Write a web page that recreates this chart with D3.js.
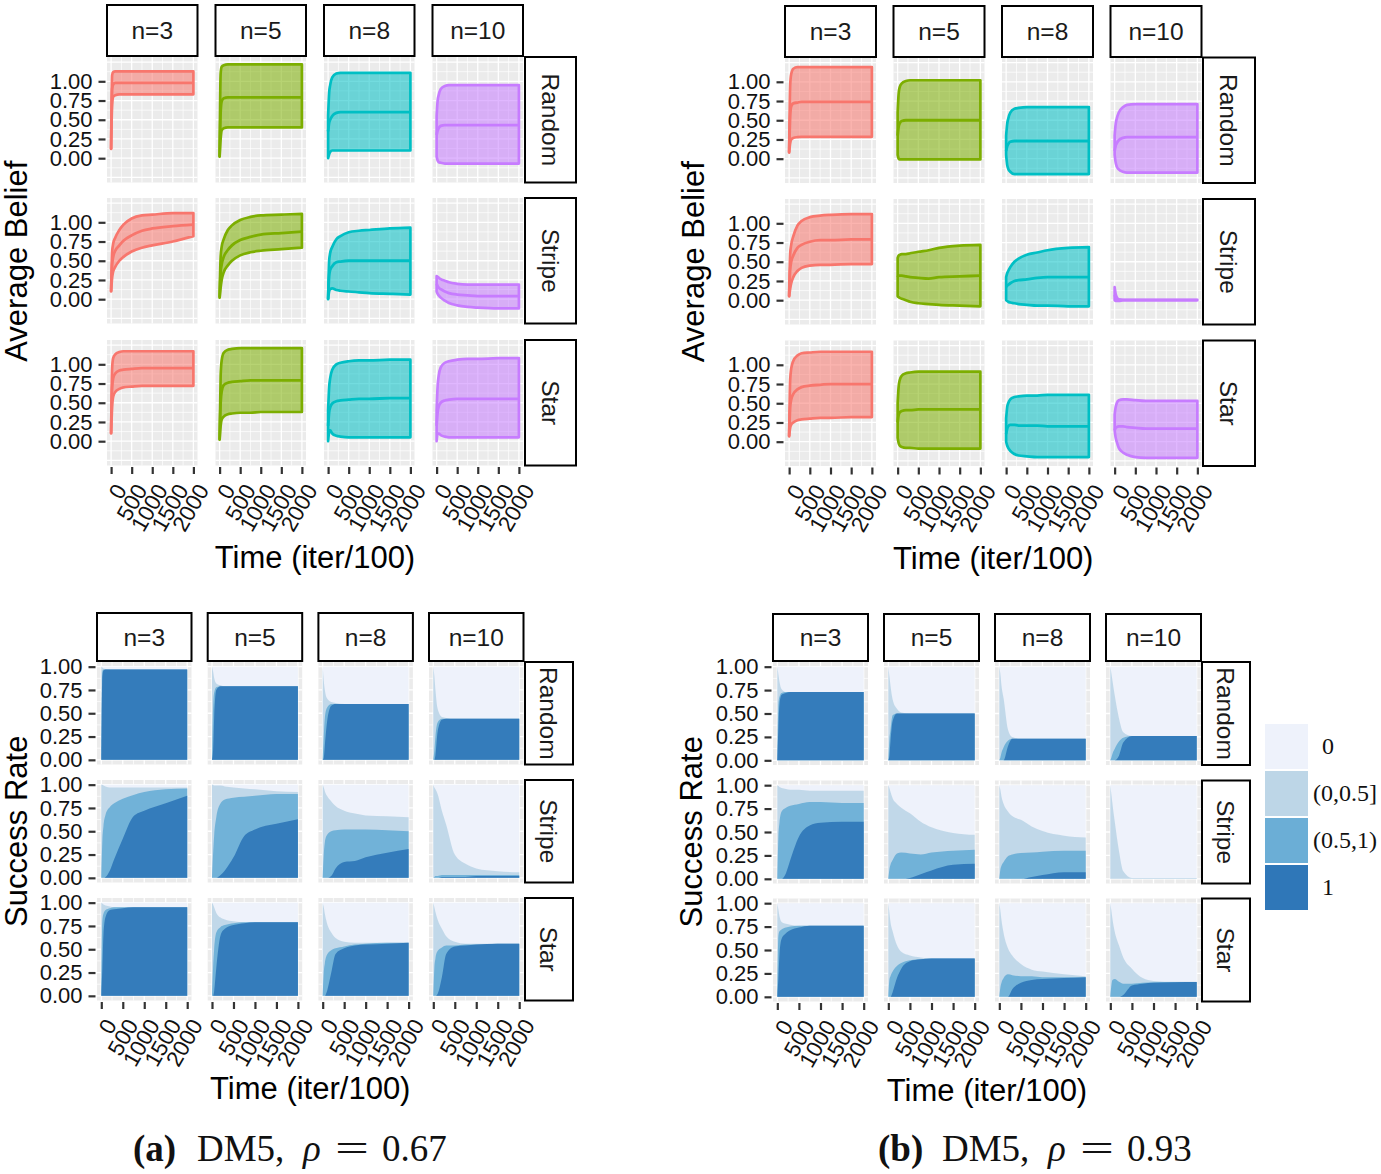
<!DOCTYPE html>
<html>
<head>
<meta charset="utf-8">
<script src="https://cdn.jsdelivr.net/npm/d3@7"></script>
<style>
  body { margin: 0; background: #fff; }
</style>
</head>
<body>
<svg id="fig" width="1381" height="1174"></svg>
<script>
// ---- data ----
const timeSteps = [0, 25, 50, 100, 200, 300, 500, 750, 1000, 1500, 2000];
const sizes = ["n=3", "n=5", "n=8", "n=10"];
const topologies = ["Random", "Stripe", "Star"];
const timeTicks = [0, 500, 1000, 1500, 2000];
const rateTicks = [0, 0.25, 0.5, 0.75, 1];
const successClasses = ["0", "(0,0.5]", "(0.5,1)", "1"];
const captionTags = ["(a)", "(b)"];
const captionRho = ["0.67", "0.93"];

// average belief, [topology][size][time]
const beliefMeanA = [
  [[0.12, 0.90, 0.96, 0.98, 0.98, 0.98, 0.98, 0.98, 0.98, 0.98, 0.98],
   [0.02, 0.60, 0.74, 0.78, 0.79, 0.79, 0.79, 0.79, 0.79, 0.79, 0.79],
   [0.35, 0.46, 0.50, 0.55, 0.59, 0.60, 0.60, 0.60, 0.60, 0.60, 0.60],
   [0.30, 0.36, 0.39, 0.42, 0.43, 0.43, 0.43, 0.43, 0.43, 0.43, 0.43]],
  [[0.10, 0.45, 0.55, 0.63, 0.70, 0.76, 0.83, 0.89, 0.92, 0.95, 0.97],
   [0.02, 0.35, 0.45, 0.55, 0.64, 0.70, 0.77, 0.81, 0.84, 0.86, 0.88],
   [0.00, 0.30, 0.38, 0.43, 0.48, 0.49, 0.50, 0.50, 0.50, 0.50, 0.50],
   [0.20, 0.17, 0.15, 0.13, 0.10, 0.08, 0.06, 0.05, 0.04, 0.04, 0.04]],
  [[0.10, 0.70, 0.82, 0.88, 0.92, 0.93, 0.94, 0.95, 0.95, 0.95, 0.95],
   [0.02, 0.50, 0.65, 0.73, 0.76, 0.77, 0.78, 0.79, 0.79, 0.79, 0.79],
   [0.20, 0.38, 0.44, 0.49, 0.52, 0.53, 0.54, 0.55, 0.55, 0.56, 0.56],
   [0.20, 0.38, 0.45, 0.50, 0.53, 0.54, 0.55, 0.55, 0.55, 0.55, 0.55]]
];
const beliefLowA = [
  [[0.12, 0.70, 0.80, 0.82, 0.83, 0.83, 0.83, 0.83, 0.83, 0.83, 0.83],
   [0.02, 0.25, 0.36, 0.39, 0.40, 0.40, 0.40, 0.40, 0.40, 0.40, 0.40],
   [0.00, 0.05, 0.08, 0.10, 0.10, 0.10, 0.10, 0.10, 0.10, 0.10, 0.10],
   [0.02, -0.03, -0.05, -0.06, -0.07, -0.07, -0.07, -0.07, -0.07, -0.07, -0.07]],
  [[0.10, 0.28, 0.36, 0.42, 0.50, 0.55, 0.62, 0.67, 0.70, 0.75, 0.82],
   [0.02, 0.15, 0.25, 0.35, 0.44, 0.50, 0.57, 0.61, 0.63, 0.65, 0.67],
   [0.00, 0.10, 0.13, 0.14, 0.12, 0.11, 0.10, 0.09, 0.08, 0.07, 0.06],
   [0.10, 0.07, 0.05, 0.02, -0.02, -0.05, -0.08, -0.10, -0.11, -0.12, -0.12]],
  [[0.10, 0.45, 0.58, 0.64, 0.68, 0.70, 0.71, 0.72, 0.72, 0.72, 0.72],
   [0.02, 0.20, 0.28, 0.32, 0.35, 0.36, 0.37, 0.37, 0.38, 0.38, 0.38],
   [0.00, 0.12, 0.14, 0.10, 0.07, 0.06, 0.05, 0.05, 0.05, 0.05, 0.05],
   [0.00, 0.10, 0.10, 0.08, 0.06, 0.05, 0.05, 0.05, 0.05, 0.05, 0.05]]
];
const beliefHighA = [
  [[0.12, 1.08, 1.12, 1.13, 1.13, 1.13, 1.13, 1.13, 1.13, 1.13, 1.13],
   [0.02, 1.10, 1.19, 1.21, 1.22, 1.22, 1.22, 1.22, 1.22, 1.22, 1.22],
   [0.55, 0.85, 0.95, 1.05, 1.10, 1.11, 1.11, 1.11, 1.11, 1.11, 1.11],
   [0.55, 0.75, 0.82, 0.90, 0.94, 0.95, 0.95, 0.95, 0.95, 0.95, 0.95]],
  [[0.10, 0.62, 0.72, 0.80, 0.90, 0.97, 1.05, 1.09, 1.10, 1.12, 1.12],
   [0.02, 0.55, 0.68, 0.78, 0.90, 0.96, 1.03, 1.07, 1.09, 1.10, 1.11],
   [0.00, 0.50, 0.60, 0.68, 0.78, 0.82, 0.87, 0.89, 0.90, 0.92, 0.93],
   [0.30, 0.29, 0.28, 0.26, 0.24, 0.22, 0.20, 0.19, 0.19, 0.19, 0.19]],
  [[0.10, 0.95, 1.08, 1.13, 1.16, 1.17, 1.17, 1.17, 1.17, 1.17, 1.17],
   [0.02, 0.85, 1.05, 1.15, 1.19, 1.20, 1.21, 1.21, 1.21, 1.21, 1.21],
   [0.40, 0.70, 0.82, 0.93, 1.00, 1.02, 1.04, 1.05, 1.05, 1.06, 1.06],
   [0.40, 0.72, 0.85, 0.96, 1.02, 1.04, 1.06, 1.07, 1.07, 1.08, 1.08]]
];

const beliefMeanB = [
  [[0.08, 0.55, 0.68, 0.72, 0.73, 0.74, 0.74, 0.74, 0.74, 0.74, 0.74],
   [0.30, 0.42, 0.46, 0.49, 0.50, 0.50, 0.50, 0.50, 0.50, 0.50, 0.50],
   [0.10, 0.16, 0.19, 0.22, 0.23, 0.23, 0.23, 0.23, 0.23, 0.23, 0.23],
   [0.10, 0.17, 0.20, 0.24, 0.27, 0.28, 0.28, 0.28, 0.28, 0.28, 0.28]],
  [[0.05, 0.40, 0.50, 0.58, 0.68, 0.72, 0.76, 0.78, 0.78, 0.79, 0.79],
   [0.30, 0.32, 0.32, 0.32, 0.31, 0.30, 0.29, 0.28, 0.30, 0.31, 0.32],
   [0.17, 0.19, 0.20, 0.22, 0.25, 0.26, 0.27, 0.29, 0.30, 0.30, 0.30],
   [0.07, 0.03, 0.01, 0.00, 0.00, 0.00, 0.00, 0.00, 0.00, 0.00, 0.00]],
  [[0.07, 0.45, 0.55, 0.62, 0.68, 0.71, 0.73, 0.74, 0.75, 0.75, 0.75],
   [0.25, 0.35, 0.38, 0.40, 0.41, 0.41, 0.42, 0.42, 0.42, 0.42, 0.42],
   [0.10, 0.17, 0.20, 0.22, 0.22, 0.21, 0.21, 0.21, 0.20, 0.20, 0.20],
   [0.15, 0.18, 0.19, 0.20, 0.20, 0.19, 0.18, 0.17, 0.17, 0.17, 0.17]]
];
const beliefLowB = [
  [[0.08, 0.20, 0.25, 0.27, 0.28, 0.285, 0.285, 0.285, 0.285, 0.285, 0.285],
   [0.05, 0.00, -0.01, -0.01, -0.01, -0.01, -0.01, -0.01, -0.01, -0.01, -0.01],
   [0.05, -0.08, -0.13, -0.17, -0.20, -0.20, -0.20, -0.20, -0.20, -0.20, -0.20],
   [0.05, -0.05, -0.10, -0.14, -0.17, -0.18, -0.18, -0.18, -0.18, -0.18, -0.18]],
  [[0.05, 0.15, 0.22, 0.30, 0.38, 0.42, 0.45, 0.46, 0.46, 0.47, 0.47],
   [0.05, 0.04, 0.03, 0.02, 0.00, -0.02, -0.04, -0.05, -0.06, -0.07, -0.08],
   [0.00, -0.01, -0.02, -0.03, -0.04, -0.05, -0.06, -0.07, -0.07, -0.08, -0.08],
   [0.00, -0.01, -0.01, -0.01, 0.00, 0.00, 0.00, 0.00, 0.00, 0.00, 0.00]],
  [[0.07, 0.18, 0.22, 0.25, 0.28, 0.29, 0.30, 0.31, 0.31, 0.32, 0.32],
   [0.05, -0.02, -0.05, -0.07, -0.08, -0.08, -0.09, -0.09, -0.09, -0.09, -0.09],
   [0.00, -0.05, -0.08, -0.12, -0.16, -0.18, -0.19, -0.20, -0.20, -0.20, -0.20],
   [0.15, 0.05, 0.00, -0.08, -0.14, -0.17, -0.20, -0.21, -0.21, -0.21, -0.21]]
];
const beliefHighB = [
  [[0.08, 0.95, 1.10, 1.17, 1.19, 1.19, 1.19, 1.19, 1.19, 1.19, 1.19],
   [0.60, 0.85, 0.93, 0.98, 1.01, 1.02, 1.02, 1.02, 1.02, 1.02, 1.02],
   [0.30, 0.45, 0.52, 0.60, 0.65, 0.66, 0.67, 0.67, 0.67, 0.67, 0.67],
   [0.30, 0.45, 0.52, 0.60, 0.67, 0.70, 0.71, 0.71, 0.71, 0.71, 0.71]],
  [[0.05, 0.60, 0.72, 0.83, 0.97, 1.03, 1.08, 1.10, 1.11, 1.12, 1.12],
   [0.55, 0.58, 0.59, 0.60, 0.60, 0.61, 0.63, 0.65, 0.68, 0.71, 0.72],
   [0.30, 0.35, 0.38, 0.43, 0.50, 0.54, 0.59, 0.62, 0.65, 0.68, 0.69],
   [0.17, 0.08, 0.04, 0.01, 0.005, 0.005, 0.005, 0.005, 0.005, 0.005, 0.005]],
  [[0.07, 0.80, 0.95, 1.05, 1.12, 1.15, 1.16, 1.17, 1.17, 1.17, 1.17],
   [0.50, 0.72, 0.80, 0.86, 0.89, 0.90, 0.91, 0.91, 0.91, 0.91, 0.91],
   [0.30, 0.45, 0.50, 0.55, 0.58, 0.59, 0.60, 0.60, 0.61, 0.61, 0.61],
   [0.35, 0.45, 0.50, 0.54, 0.55, 0.55, 0.54, 0.53, 0.53, 0.53, 0.53]]
];

// success rate, cumulative shares: rate = 1, rate > 0.5, rate > 0
const successFullA = [
  [[0, 0.90, 0.96, 0.97, 0.97, 0.97, 0.97, 0.97, 0.97, 0.97, 0.97],
   [0, 0.10, 0.45, 0.75, 0.79, 0.79, 0.79, 0.79, 0.79, 0.79, 0.79],
   [0, 0.02, 0.15, 0.40, 0.58, 0.60, 0.60, 0.60, 0.60, 0.60, 0.60],
   [0, 0.00, 0.05, 0.30, 0.43, 0.44, 0.44, 0.44, 0.44, 0.44, 0.44]],
  [[0, 0, 0, 0.01, 0.08, 0.20, 0.42, 0.66, 0.72, 0.80, 0.88],
   [0, 0, 0, 0, 0.03, 0.08, 0.22, 0.45, 0.52, 0.58, 0.63],
   [0, 0, 0, 0, 0.02, 0.10, 0.17, 0.18, 0.22, 0.27, 0.31],
   [0, 0, 0, 0, 0.01, 0.01, 0.01, 0.01, 0.02, 0.02, 0.02]],
  [[0, 0.30, 0.65, 0.85, 0.92, 0.93, 0.94, 0.95, 0.95, 0.95, 0.95],
   [0, 0, 0.05, 0.30, 0.65, 0.72, 0.76, 0.78, 0.79, 0.79, 0.79],
   [0, 0, 0, 0.05, 0.25, 0.45, 0.51, 0.54, 0.55, 0.56, 0.57],
   [0, 0, 0, 0.02, 0.20, 0.45, 0.53, 0.54, 0.55, 0.56, 0.56]]
];
const successHalfA = [
  [[0, 0.95, 0.97, 0.97, 0.97, 0.97, 0.97, 0.97, 0.97, 0.97, 0.97],
   [0, 0.55, 0.72, 0.78, 0.79, 0.79, 0.79, 0.79, 0.79, 0.79, 0.79],
   [0, 0.25, 0.45, 0.56, 0.60, 0.60, 0.60, 0.60, 0.60, 0.60, 0.60],
   [0, 0.10, 0.25, 0.40, 0.44, 0.44, 0.44, 0.44, 0.44, 0.44, 0.44]],
  [[0, 0.40, 0.55, 0.68, 0.76, 0.80, 0.85, 0.89, 0.92, 0.95, 0.96],
   [0, 0.25, 0.45, 0.65, 0.80, 0.84, 0.86, 0.87, 0.88, 0.90, 0.90],
   [0, 0.25, 0.38, 0.46, 0.50, 0.51, 0.52, 0.52, 0.52, 0.51, 0.50],
   [0, 0.01, 0.02, 0.02, 0.03, 0.03, 0.03, 0.03, 0.03, 0.03, 0.03]],
  [[0, 0.80, 0.88, 0.92, 0.94, 0.95, 0.95, 0.95, 0.95, 0.95, 0.95],
   [0, 0.30, 0.50, 0.68, 0.74, 0.76, 0.78, 0.79, 0.79, 0.79, 0.79],
   [0, 0.25, 0.35, 0.44, 0.49, 0.51, 0.53, 0.55, 0.56, 0.57, 0.57],
   [0, 0.30, 0.40, 0.48, 0.52, 0.54, 0.54, 0.55, 0.55, 0.56, 0.56]]
];
const successAnyA = [
  [[1, 0.99, 0.98, 0.975, 0.97, 0.97, 0.97, 0.97, 0.97, 0.97, 0.97],
   [1, 0.95, 0.88, 0.82, 0.80, 0.79, 0.79, 0.79, 0.79, 0.79, 0.79],
   [1, 0.85, 0.75, 0.66, 0.62, 0.61, 0.60, 0.60, 0.60, 0.60, 0.60],
   [1, 0.90, 0.75, 0.55, 0.46, 0.45, 0.44, 0.44, 0.44, 0.44, 0.44]],
  [[1, 1, 0.99, 0.98, 0.97, 0.97, 0.97, 0.97, 0.97, 0.97, 0.97],
   [1, 1, 0.99, 0.99, 0.99, 0.98, 0.97, 0.96, 0.95, 0.93, 0.92],
   [1, 0.97, 0.93, 0.88, 0.82, 0.77, 0.72, 0.69, 0.67, 0.66, 0.65],
   [1, 0.97, 0.95, 0.90, 0.72, 0.57, 0.25, 0.15, 0.10, 0.07, 0.06]],
  [[1, 0.99, 0.98, 0.97, 0.96, 0.95, 0.95, 0.95, 0.95, 0.95, 0.95],
   [1, 0.98, 0.95, 0.89, 0.84, 0.82, 0.80, 0.79, 0.79, 0.79, 0.79],
   [1, 0.95, 0.88, 0.78, 0.68, 0.62, 0.58, 0.57, 0.57, 0.57, 0.57],
   [1, 0.95, 0.90, 0.82, 0.72, 0.64, 0.58, 0.56, 0.56, 0.56, 0.56]]
];

const successFullB = [
  [[0, 0.35, 0.60, 0.70, 0.72, 0.73, 0.73, 0.73, 0.73, 0.73, 0.73],
   [0, 0.05, 0.20, 0.42, 0.50, 0.50, 0.50, 0.50, 0.50, 0.50, 0.50],
   [0, 0, 0, 0, 0.15, 0.23, 0.23, 0.23, 0.23, 0.23, 0.23],
   [0, 0, 0, 0, 0.05, 0.19, 0.26, 0.26, 0.26, 0.26, 0.26]],
  [[0, 0, 0, 0, 0.06, 0.20, 0.45, 0.57, 0.60, 0.61, 0.61],
   [0, 0, 0, 0, 0, 0, 0.01, 0.05, 0.09, 0.15, 0.16],
   [0, 0, 0, 0, 0, 0, 0, 0.02, 0.04, 0.07, 0.07],
   [0, 0, 0, 0, 0, 0, 0, 0, 0, 0, 0]],
  [[0, 0.20, 0.45, 0.62, 0.68, 0.71, 0.74, 0.76, 0.76, 0.76, 0.76],
   [0, 0, 0, 0.05, 0.20, 0.30, 0.38, 0.40, 0.41, 0.41, 0.41],
   [0, 0, 0, 0, 0, 0.08, 0.15, 0.18, 0.19, 0.20, 0.21],
   [0, 0, 0, 0, 0, 0.02, 0.12, 0.14, 0.15, 0.155, 0.157]]
];
const successHalfB = [
  [[0, 0.60, 0.68, 0.72, 0.73, 0.73, 0.73, 0.73, 0.73, 0.73, 0.73],
   [0, 0.22, 0.32, 0.48, 0.50, 0.50, 0.50, 0.50, 0.50, 0.50, 0.50],
   [0, 0.03, 0.08, 0.14, 0.21, 0.23, 0.23, 0.23, 0.23, 0.23, 0.23],
   [0, 0.03, 0.07, 0.12, 0.20, 0.24, 0.26, 0.26, 0.26, 0.26, 0.26]],
  [[0, 0.45, 0.60, 0.72, 0.76, 0.78, 0.80, 0.82, 0.82, 0.81, 0.81],
   [0, 0.10, 0.15, 0.20, 0.27, 0.28, 0.27, 0.26, 0.28, 0.30, 0.31],
   [0, 0.10, 0.14, 0.18, 0.24, 0.26, 0.275, 0.28, 0.29, 0.30, 0.30],
   [0, 0, 0, 0, 0, 0, 0, 0, 0, 0, 0]],
  [[0, 0.65, 0.70, 0.72, 0.74, 0.75, 0.76, 0.76, 0.76, 0.76, 0.76],
   [0, 0.18, 0.22, 0.27, 0.33, 0.36, 0.39, 0.40, 0.41, 0.41, 0.41],
   [0, 0.10, 0.15, 0.20, 0.24, 0.23, 0.22, 0.22, 0.21, 0.21, 0.21],
   [0, 0.12, 0.18, 0.19, 0.16, 0.14, 0.14, 0.15, 0.155, 0.157, 0.157]]
];
const successAnyB = [
  [[1, 0.92, 0.84, 0.76, 0.73, 0.73, 0.73, 0.73, 0.73, 0.73, 0.73],
   [1, 0.90, 0.80, 0.65, 0.55, 0.51, 0.50, 0.50, 0.50, 0.50, 0.50],
   [1, 0.92, 0.80, 0.66, 0.33, 0.25, 0.23, 0.23, 0.23, 0.23, 0.23],
   [1, 0.93, 0.85, 0.70, 0.45, 0.30, 0.26, 0.26, 0.26, 0.26, 0.26]],
  [[1, 0.99, 0.98, 0.97, 0.96, 0.95, 0.95, 0.94, 0.94, 0.94, 0.94],
   [1, 0.97, 0.93, 0.86, 0.80, 0.76, 0.70, 0.61, 0.55, 0.49, 0.47],
   [1, 0.95, 0.88, 0.80, 0.72, 0.67, 0.63, 0.56, 0.51, 0.46, 0.44],
   [1, 0.90, 0.80, 0.62, 0.30, 0.08, 0.01, 0.01, 0.01, 0.01, 0.01]],
  [[1, 0.93, 0.86, 0.80, 0.78, 0.77, 0.76, 0.76, 0.76, 0.76, 0.76],
   [1, 0.90, 0.80, 0.70, 0.55, 0.48, 0.44, 0.42, 0.41, 0.41, 0.41],
   [1, 0.92, 0.82, 0.68, 0.52, 0.44, 0.35, 0.29, 0.27, 0.24, 0.22],
   [1, 0.92, 0.83, 0.70, 0.55, 0.42, 0.30, 0.20, 0.17, 0.16, 0.16]]
];

// ---- styles ----
const sizeColors = ["#F8766D", "#7CAE00", "#00BFC4", "#C77CFF"];
const classColors = ["#eef2fb", "#bdd6e7", "#6baed6", "#2f77b8"];
const SANS = "'Liberation Sans', Arial, Helvetica, sans-serif";
const SERIF = "'Liberation Serif', 'Times New Roman', serif";

const svg = d3.select("#fig");

// one facet_grid block (3 topologies x 4 sizes)
function facet(o) {
  const g = svg.append("g");
  const x = d3.scaleLinear().domain([-100, 2100]).range([0, o.colW]);
  const y = d3.scaleLinear().domain(o.yDomain).range([o.rowH, 0]);
  const gridX = d3.range(-250, 2251, 250).filter(v => v >= -100 && v <= 2100);
  const gridY = d3.range(-0.5, 1.51, 0.125).filter(v => v >= o.yDomain[0] && v <= o.yDomain[1]);
  const isMajorY = v => Math.abs(v * 4 - Math.round(v * 4)) < 1e-6;

  topologies.forEach((topo, r) => {
    sizes.forEach((size, c) => {
      const p = g.append("g").attr("transform", `translate(${o.lefts[c]},${o.tops[r]})`);
      p.append("rect").attr("width", o.colW).attr("height", o.rowH).attr("fill", "#ebebeb");
      p.selectAll("line.gx").data(gridX).join("line").attr("class", "gx")
        .attr("x1", d => x(d)).attr("x2", d => x(d)).attr("y1", 0).attr("y2", o.rowH)
        .attr("stroke", "#fff").attr("stroke-width", d => d % 500 === 0 ? 1.3 : 0.7);
      p.selectAll("line.gy").data(gridY).join("line").attr("class", "gy")
        .attr("y1", d => y(d)).attr("y2", d => y(d)).attr("x1", 0).attr("x2", o.colW)
        .attr("stroke", "#fff").attr("stroke-width", d => isMajorY(d) ? 1.3 : 0.7);

      o.marks(p, r, c, x, y);

      if (c === 0) {
        const ya = p.append("g").attr("transform", "translate(-1.5,0)")
          .call(d3.axisLeft(y).tickValues(rateTicks).tickFormat(d3.format(".2f")).tickSize(7).tickPadding(6));
        ya.select(".domain").remove();
        ya.selectAll("line").attr("stroke", "#333").attr("stroke-width", 2.2);
        ya.selectAll("text").attr("font-family", SANS).attr("font-size", 22).attr("fill", "#111");
      }
      if (r === topologies.length - 1) {
        const xa = p.append("g").attr("transform", `translate(0,${o.rowH + 1.5})`)
          .call(d3.axisBottom(x).tickValues(timeTicks).tickFormat(d3.format("d")).tickSize(7));
        xa.select(".domain").remove();
        xa.selectAll("line").attr("stroke", "#333").attr("stroke-width", 2.2);
        xa.selectAll("text").attr("font-family", SANS).attr("font-size", 22.5).attr("fill", "#111")
          .attr("x", 0).attr("y", 0).attr("dy", "0.35em").attr("text-anchor", "end")
          .attr("transform", "translate(9,19) rotate(-60)");
      }
      if (r === 0) {
        g.append("rect").attr("x", o.lefts[c]).attr("y", o.stripY).attr("width", o.colW).attr("height", o.stripH)
          .attr("fill", "#fff").attr("stroke", "#000").attr("stroke-width", 2);
        g.append("text").attr("x", o.lefts[c] + o.colW / 2).attr("y", o.stripY + o.stripH / 2 + 8.8)
          .attr("text-anchor", "middle").attr("font-family", SANS).attr("font-size", 24.5).attr("fill", "#1a1a1a")
          .text(size);
      }
    });
    g.append("rect").attr("x", o.rowStripX).attr("y", o.tops[r]).attr("width", o.rowStripW).attr("height", o.rowH)
      .attr("fill", "#fff").attr("stroke", "#000").attr("stroke-width", 2);
    g.append("text")
      .attr("transform", `translate(${o.rowStripX + o.rowStripW / 2},${o.tops[r] + o.rowH / 2}) rotate(90)`)
      .attr("dy", "0.36em").attr("text-anchor", "middle")
      .attr("font-family", SANS).attr("font-size", 24.5).attr("fill", "#1a1a1a").text(topo);
  });

  const xMid = (o.lefts[0] + o.lefts[3] + o.colW) / 2;
  const yMid = (o.tops[0] + o.tops[2] + o.rowH) / 2;
  g.append("text").attr("x", xMid).attr("y", o.xTitleY).attr("text-anchor", "middle")
    .attr("font-family", SANS).attr("font-size", 31).text("Time (iter/100)");
  g.append("text").attr("transform", `translate(${o.yTitleX},${yMid}) rotate(-90)`).attr("text-anchor", "middle")
    .attr("font-family", SANS).attr("font-size", 31).text(o.yTitle);
}

function beliefMarks(mean, low, high) {
  return (p, r, c, x, y) => {
    const pts = timeSteps.map((t, i) => ({ t, m: mean[r][c][i], lo: low[r][c][i], hi: high[r][c][i] }));
    const band = d3.area().x(d => x(d.t)).y0(d => y(d.lo)).y1(d => y(d.hi)).curve(d3.curveMonotoneX);
    const line = d3.line().x(d => x(d.t)).y(d => y(d.m)).curve(d3.curveMonotoneX);
    p.append("path").attr("d", band(pts)).attr("fill", sizeColors[c]).attr("fill-opacity", 0.55)
      .attr("stroke", sizeColors[c]).attr("stroke-width", 2.7).attr("stroke-linejoin", "round");
    p.append("path").attr("d", line(pts)).attr("fill", "none")
      .attr("stroke", sizeColors[c]).attr("stroke-width", 2.8);
  };
}

function successMarks(full, half, any) {
  return (p, r, c, x, y) => {
    p.append("rect").attr("x", x(0)).attr("y", y(1)).attr("width", x(2000) - x(0)).attr("height", y(0) - y(1))
      .attr("fill", classColors[0]);
    [any, half, full].forEach((arr, k) => {
      const area = d3.area().x((d, i) => x(timeSteps[i])).y0(y(0)).y1(d => y(d)).curve(d3.curveMonotoneX);
      p.append("path").attr("d", area(arr[r][c])).attr("fill", classColors[k + 1]).attr("fill-opacity", 0.93);
    });
  };
}

facet({
  lefts: [107, 215.5, 324, 432.5], colW: 90.5, tops: [57, 198, 340], rowH: 125.5,
  stripY: 5, stripH: 51, rowStripX: 525, rowStripW: 51, yDomain: [-0.316, 1.316],
  xTitleY: 568, yTitleX: 27, yTitle: "Average Belief",
  marks: beliefMarks(beliefMeanA, beliefLowA, beliefHighA)
});
facet({
  lefts: [785, 893.5, 1002, 1110.5], colW: 91, tops: [57.5, 199, 340.5], rowH: 125.5,
  stripY: 6, stripH: 51, rowStripX: 1203, rowStripW: 52, yDomain: [-0.316, 1.316],
  xTitleY: 569, yTitleX: 704, yTitle: "Average Belief",
  marks: beliefMarks(beliefMeanB, beliefLowB, beliefHighB)
});
facet({
  lefts: [97, 207.7, 318.4, 429], colW: 94.5, tops: [662, 780, 898], rowH: 102.5,
  stripY: 613, stripH: 48, rowStripX: 525, rowStripW: 48, yDomain: [-0.05, 1.05],
  xTitleY: 1099, yTitleX: 27, yTitle: "Success Rate",
  marks: successMarks(successFullA, successHalfA, successAnyA)
});
facet({
  lefts: [773, 884, 995, 1106], colW: 95, tops: [662, 780.5, 898.5], rowH: 103,
  stripY: 614, stripH: 47, rowStripX: 1202, rowStripW: 48, yDomain: [-0.05, 1.05],
  xTitleY: 1101, yTitleX: 702, yTitle: "Success Rate",
  marks: successMarks(successFullB, successHalfB, successAnyB)
});

// legend for success classes
const legend = svg.append("g").attr("transform", "translate(1265,724)");
successClasses.forEach((cls, i) => {
  legend.append("rect").attr("x", 0).attr("y", i * 47).attr("width", 43).attr("height", 45).attr("fill", classColors[i]);
  legend.append("text").attr("x", cls.length === 1 ? 57 : 48).attr("y", i * 47 + 30)
    .attr("font-family", SERIF).attr("font-size", 24).attr("fill", "#111").text(cls);
});

// sub-figure captions, pieces placed like the LaTeX layout
[133, 878].forEach((x0, k) => {
  const cap = svg.append("g").attr("transform", `translate(${x0},1161)`)
    .attr("font-family", SERIF).attr("font-size", 37).attr("fill", "#111");
  cap.append("text").attr("x", 0).attr("font-weight", "bold").text(captionTags[k]);
  cap.append("text").attr("x", 64).text("DM5,");
  cap.append("text").attr("x", 170).attr("font-style", "italic").text("\u03C1");
  cap.append("text").attr("x", 202).attr("textLength", 34).attr("lengthAdjust", "spacingAndGlyphs").text("=");
  cap.append("text").attr("x", 249).text(captionRho[k]);
});
</script>
</body>
</html>
